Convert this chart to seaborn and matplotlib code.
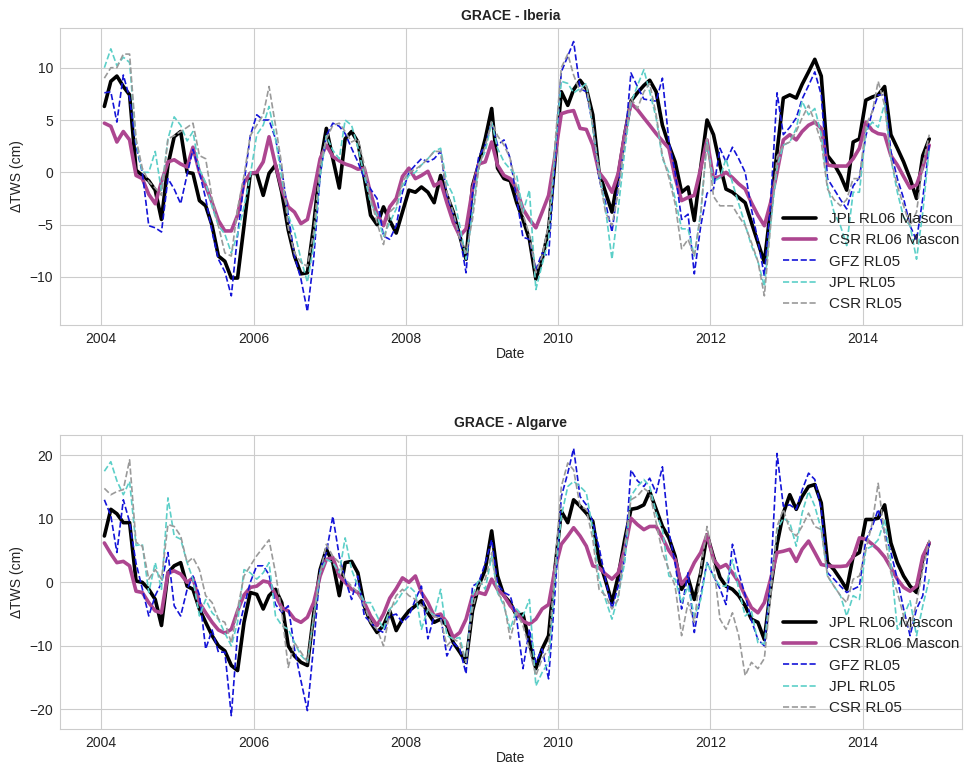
import numpy as np
import pandas as pd
import matplotlib
matplotlib.use("Agg")
import matplotlib.pyplot as plt
import matplotlib.dates as mdates
import seaborn as sns

# Monthly GRACE solutions, Jan 2004 - Nov 2014 (mid-month dates)
months = pd.date_range("2004-01-01", periods=131, freq="MS") + pd.Timedelta(days=15)

# ---- Iberia (cm of terrestrial water storage anomaly) ----
iberia_jpl_rl06_mascon = [
    6.3, 8.7, 9.2, 8.2, 7.4, 0.2, -0.3, -0.8, -1.7, -4.5,
    0.7, 3.4, 3.9, 0.0, -0.1, -2.7, -3.2, -5.1, -8.0, -8.5,
    -10.1, -10.1, -5.1, -0.1, -0.1, -2.2, -0.1, 0.7, -1.9, -5.5,
    -8.0, -9.7, -9.6, -5.1, 0.7, 4.2, 1.3, -1.5, 3.2, 3.9,
    2.9, -0.5, -4.1, -5.0, -3.3, -4.6, -5.8, -3.8, -1.7, -1.9,
    -1.4, -1.9, -2.9, -0.3, -2.2, -3.8, -6.1, -8.3, -1.3, 0.8,
    3.2, 6.1, 0.4, -0.6, -0.8, -2.9, -4.5, -6.4, -10.2, -8.3,
    -5.5, 1.0, 7.7, 6.4, 7.9, 8.8, 8.0, 5.5, 0.0, -1.9,
    -3.8, -0.3, 3.6, 6.8, 7.6, 8.3, 8.8, 7.7, 4.5, 2.6,
    1.0, -1.9, -1.4, -4.6, 0.5, 5.0, 3.6, 0.7, -1.6, -1.9,
    -2.4, -2.9, -4.8, -6.7, -8.6, -3.5, 2.0, 7.1, 7.4, 7.1,
    8.4, 9.6, 10.8, 9.2, 1.6, 0.8, -0.3, -1.7, 2.9, 3.2,
    6.9, 7.2, 7.4, 8.2, 3.6, 2.3, 1.0, -0.6, -2.5, 1.6, 3.2,
]
iberia_csr_rl06_mascon = [
    4.7, 4.4, 2.9, 3.9, 3.1, -0.3, -0.6, -2.1, -3.0, -0.9,
    1.0, 1.2, 0.8, 0.5, 2.4, 0.0, -1.3, -2.9, -4.6, -5.6,
    -5.6, -4.1, -1.0, -0.1, 0.0, 1.0, 3.4, 0.7, -1.6, -3.3,
    -3.8, -4.9, -4.5, -1.9, 1.3, 2.6, 1.5, 1.1, 0.8, 0.6,
    0.3, 0.4, -2.0, -4.0, -5.1, -3.3, -2.5, -0.4, 0.4, -0.6,
    -0.3, 0.1, -1.3, -0.9, -2.9, -4.8, -6.1, -5.4, -1.6, 0.8,
    1.0, 2.9, 0.7, -0.3, -0.6, -1.6, -3.5, -4.5, -5.3, -3.8,
    -2.2, 1.5, 5.6, 5.8, 5.9, 4.2, 4.1, 2.6, 0.0, -0.8,
    -1.9, -0.1, 3.6, 6.6, 6.0, 5.2, 4.5, 3.7, 3.0, 2.3,
    -0.5, -2.7, -2.4, -2.2, 0.4, 3.1, -0.6, -0.4, 0.0, -0.5,
    -1.1, -1.6, -2.9, -4.1, -5.1, -2.9, 0.0, 3.1, 3.6, 3.1,
    3.9, 4.5, 4.8, 4.2, 0.7, 0.6, 0.6, 0.6, 1.3, 2.3,
    4.8, 4.0, 3.7, 3.6, 1.6, 0.7, -0.4, -1.5, -1.2, 0.5, 2.6,
]
iberia_gfz_rl05 = [
    7.6, 7.7, 4.8, 9.3, 7.1, 2.5, 0.0, -5.1, -5.3, -5.7,
    -0.6, -1.6, -3.0, -0.2, 2.2, 0.0, -2.5, -5.7, -8.3, -9.5,
    -11.8, -6.0, -1.0, 3.5, 5.5, 5.0, 5.0, 3.2, 0.3, -4.0,
    -8.0, -10.2, -13.3, -8.3, -0.3, 3.5, 4.7, 4.4, 3.7, 2.3,
    1.0, -0.6, -1.6, -2.5, -6.1, -6.4, -5.1, -1.9, 0.0, 0.7,
    1.3, 1.0, 1.3, 2.0, -2.2, -4.0, -6.1, -9.6, -2.0, 1.5,
    2.6, 4.8, 2.6, 3.1, 1.3, -2.5, -6.2, -6.4, -9.3, -7.7,
    -8.0, 1.0, 9.6, 11.1, 12.5, 8.0, 7.7, 4.5, -0.6, -2.9,
    -5.7, -1.3, 2.6, 9.5, 8.2, 7.0, 6.9, 6.8, 9.0, 3.0,
    0.0, -4.5, -4.0, -9.7, -5.1, -2.0, -1.6, 2.3, 1.0, 2.4,
    1.3, 0.0, -3.5, -6.5, -9.9, -3.0, 7.6, 3.6, 4.3, 5.2,
    7.0, 8.3, 9.6, 7.4, -0.6, -1.6, -2.6, -3.5, -1.3, -0.5,
    3.5, 5.8, 7.4, 7.4, 2.0, -0.6, -2.5, -5.1, -6.5, -2.5, 2.6,
]
iberia_jpl_rl05 = [
    10.0, 11.8, 10.2, 11.0, 10.5, 2.9, 0.0, 0.0, 2.0, -1.8,
    3.2, 5.3, 4.5, 3.0, 3.9, 0.3, -1.0, -3.3, -5.1, -5.9,
    -7.7, -5.9, -3.3, -0.3, 3.6, 4.5, 6.3, 3.2, -0.6, -4.1,
    -5.7, -8.3, -10.5, -7.0, -0.3, 3.5, 2.1, 1.3, 5.0, 4.5,
    2.4, -0.3, -2.9, -4.1, -6.1, -4.8, -3.5, -1.3, -0.3, 0.0,
    0.7, 1.3, 2.0, 2.3, -1.0, -2.2, -5.1, -8.3, -3.8, 0.7,
    2.0, 4.8, 2.3, 1.0, 0.3, -0.3, -3.8, -1.7, -11.2, -8.8,
    -6.4, 2.0, 8.7, 8.5, 7.6, 8.0, 8.5, 4.2, 0.3, -3.5,
    -8.3, -3.5, 2.0, 6.6, 8.3, 9.8, 7.7, 5.2, 1.3, 0.0,
    -2.5, -5.4, -5.4, -8.0, -3.8, 2.9, -0.9, -0.5, 1.3, -1.0,
    -3.0, -5.0, -7.0, -8.5, -10.9, -5.0, 0.5, 2.6, 2.9, 4.2,
    6.8, 5.5, 6.1, 3.6, -1.3, -3.8, -5.1, -7.0, -1.9, -1.9,
    4.0, 4.8, 4.3, 6.6, 1.3, -1.9, -4.3, -5.1, -8.3, -3.8, 2.3,
]
iberia_csr_rl05 = [
    9.0, 10.0, 10.0, 11.3, 11.3, 3.2, 0.4, -0.9, -1.5, -2.2,
    3.2, 3.5, 3.9, 4.3, 4.7, 1.6, 1.3, -2.5, -5.1, -7.7,
    -8.0, -3.5, -0.3, 3.5, 4.5, 5.5, 8.2, 4.5, 0.7, -5.3,
    -7.7, -8.6, -9.0, -5.7, 0.7, 3.2, 4.5, 4.7, 3.9, 2.9,
    3.2, 0.7, -2.5, -4.8, -6.9, -3.8, -3.2, -0.9, 0.0, 0.3,
    0.7, 1.3, 2.0, 2.0, -1.9, -3.8, -6.4, -7.7, -4.5, 0.4,
    2.5, 4.8, 3.5, 2.6, 1.3, -1.5, -4.0, -6.0, -9.6, -8.0,
    -5.0, 2.5, 10.0, 11.3, 9.3, 7.7, 8.3, 4.5, -0.3, -3.8,
    -5.1, -1.9, 2.9, 7.1, 6.1, 7.7, 8.5, 5.5, 1.6, -0.5,
    -3.0, -7.3, -6.4, -8.0, -4.0, 3.2, -2.3, -3.2, -3.2, -3.2,
    -4.2, -5.1, -6.7, -8.5, -11.8, -5.1, 1.5, 2.6, 2.9, 3.9,
    5.2, 6.4, 4.8, 2.9, -1.6, -2.6, -3.2, -2.6, -0.6, -0.6,
    4.5, 5.8, 8.7, 6.4, 1.3, -1.3, -3.2, -5.1, -3.8, 0.7, 3.6,
]

# ---- Algarve ----
algarve_jpl_rl06_mascon = [
    7.3, 11.5, 10.8, 9.4, 9.4, 0.2, 0.0, -1.1, -2.7, -6.8,
    1.5, 2.6, 3.1, -0.6, -1.1, -4.2, -6.3, -8.4, -10.0, -10.8,
    -13.1, -13.9, -6.3, -1.6, -1.9, -4.2, -2.1, -1.1, -3.2, -10.0,
    -11.6, -12.6, -13.1, -5.0, 2.0, 5.2, 3.1, -2.1, 3.1, 3.3,
    1.5, -3.7, -6.3, -7.9, -6.8, -4.5, -7.6, -5.8, -4.5, -3.7,
    -2.9, -4.8, -6.3, -5.8, -6.8, -9.5, -11.0, -12.6, -4.5, -0.5,
    2.0, 8.1, 1.0, -2.1, -3.2, -5.3, -5.0, -9.5, -13.6, -10.5,
    -8.4, 2.0, 11.2, 9.4, 13.0, 12.0, 10.9, 9.6, 3.5, 0.3,
    -3.2, 1.0, 6.7, 11.5, 11.7, 12.2, 14.3, 11.5, 8.8, 7.0,
    4.1, -1.1, 0.7, -2.7, 1.5, 7.5, 4.0, 0.8, -0.6, -1.1,
    -2.1, -3.7, -5.8, -6.3, -9.0, -1.0, 6.0, 10.9, 13.8, 11.5,
    13.5, 15.1, 15.4, 12.5, 3.1, 2.0, 0.5, -1.1, 4.1, 4.7,
    9.9, 9.9, 10.1, 12.2, 6.2, 3.1, 1.0, -0.6, -1.6, 3.6, 6.2,
]
algarve_csr_rl06_mascon = [
    6.2, 4.5, 3.1, 3.3, 2.6, -1.4, -1.6, -3.2, -4.5, -4.8,
    1.5, 1.8, 1.3, 0.0, 0.7, -3.2, -4.8, -6.3, -7.5, -8.0,
    -7.4, -4.5, -2.0, -0.8, -0.6, 0.2, 0.0, -2.0, -4.0, -4.5,
    -5.8, -6.3, -5.5, -3.2, 1.0, 3.6, 3.9, 1.0, 0.0, -1.1,
    -1.6, -3.2, -5.3, -6.8, -5.0, -2.5, -1.0, 0.7, 0.0, 1.0,
    -1.6, -3.2, -5.3, -5.0, -6.3, -8.7, -7.9, -5.8, -2.1, -1.6,
    -1.9, 0.5, -1.1, -2.1, -3.7, -4.8, -6.1, -6.6, -5.8, -4.2,
    -3.5, 2.0, 6.0, 7.3, 8.6, 7.3, 5.7, 2.6, 2.3, 1.3,
    0.5, 1.5, 5.2, 10.1, 9.1, 8.3, 8.8, 8.8, 7.0, 5.0,
    3.6, -0.3, 1.0, 3.1, 4.7, 7.5, 3.6, 2.3, 2.8, 1.5,
    0.0, -2.1, -4.0, -4.8, -3.2, 0.5, 4.7, 4.9, 5.2, 3.3,
    5.2, 6.5, 4.7, 2.8, 2.6, 2.5, 2.5, 2.6, 4.0, 7.0,
    6.8, 6.0, 5.2, 4.0, 2.3, 0.5, -0.8, -1.4, -0.6, 4.1, 6.2,
]
algarve_gfz_rl05 = [
    13.0, 10.5, 4.7, 13.0, 9.5, 3.0, -1.0, -5.3, -2.1, -0.1,
    4.7, -3.7, -5.3, -1.1, 1.0, -2.0, -10.5, -7.5, -11.0, -11.0,
    -21.0, -8.0, -3.8, 0.0, 2.6, 2.6, 1.2, -3.5, -4.7, -3.7,
    -10.5, -15.5, -20.2, -10.0, 2.0, 4.7, 10.4, 4.1, 0.5, -2.7,
    1.0, -5.3, -6.3, -7.4, -7.9, -5.3, -5.0, -6.3, -5.3, -2.7,
    -0.6, -8.9, -5.3, -5.3, -11.6, -9.5, -10.5, -14.4, -0.6, 0.0,
    3.0, 6.7, -0.3, -1.6, -2.1, -5.8, -13.6, -7.4, -12.6, -10.5,
    -15.2, -2.0, 13.5, 17.2, 21.1, 13.5, 12.2, 9.5, 5.5, 0.5,
    -4.2, -0.6, 3.6, 17.7, 16.0, 15.1, 16.4, 14.1, 18.2, 8.0,
    3.0, -4.2, 1.5, -7.9, -2.0, 3.1, 1.0, -1.0, -3.5, 6.0,
    1.5, -2.0, -6.0, -9.0, -10.0, 0.5, 20.3, 12.0, 12.2, 11.5,
    14.5, 17.2, 16.2, 11.5, 1.5, 0.5, -0.6, -1.6, -1.1, -0.6,
    6.7, 8.8, 11.5, 7.8, 4.7, 0.5, -4.2, -8.4, -4.2, -2.1, 6.2,
]
algarve_jpl_rl05 = [
    17.5, 19.0, 16.0, 13.8, 15.9, 5.8, 6.0, -1.6, 3.1, -1.1,
    13.3, 7.3, 6.8, 3.1, 0.5, -5.3, -2.7, -4.8, -5.8, -8.0,
    -10.0, -6.3, 2.0, 1.5, 0.5, 1.5, 3.1, -5.3, -6.8, -7.4,
    -9.5, -11.5, -12.6, -5.5, 1.5, 3.6, 3.1, 1.5, 7.0, 2.0,
    -0.6, -3.2, -3.2, -5.3, -7.4, -4.2, -3.2, -1.6, -0.6, -1.6,
    -7.4, -4.2, -5.3, -1.1, -8.4, -8.9, -8.7, -12.6, -2.1, 0.5,
    -1.1, 4.1, -1.6, -3.7, -7.4, -4.2, -5.3, -2.7, -16.3, -14.2,
    -12.6, 0.5, 10.4, 15.1, 15.9, 15.1, 14.1, 8.3, 0.5, -2.7,
    -5.8, -2.1, 3.1, 13.6, 15.1, 16.2, 15.1, 10.9, 8.3, 1.0,
    0.5, -3.2, -0.6, -5.3, -2.7, 3.1, 1.0, -0.6, -0.6, 3.6,
    -1.1, -5.3, -4.5, -9.5, -9.7, -1.1, 8.3, 10.1, 9.4, 5.7,
    10.9, 14.3, 12.0, 8.3, 1.0, -0.6, -2.1, -5.3, -2.1, -2.7,
    5.2, 5.7, 6.7, 9.9, 3.1, -7.4, -5.3, -2.9, -8.4, -3.7, 0.5,
]
algarve_csr_rl05 = [
    14.8, 13.8, 14.3, 14.6, 19.3, 6.3, 5.7, 0.5, 2.0, 0.5,
    9.1, 8.8, 7.3, 3.1, 3.9, 2.0, -2.1, -3.2, -5.8, -6.3,
    -9.5, -4.2, 1.0, 2.6, 4.2, 5.5, 6.7, 1.5, -4.7, -13.4,
    -9.5, -11.0, -12.6, -5.3, 1.5, 6.0, 4.1, 3.1, 0.5, -0.6,
    -1.6, -3.7, -6.3, -7.4, -10.0, -4.8, -2.1, -1.1, -2.1, -2.7,
    -3.7, -4.2, -5.3, -5.8, -10.0, -8.9, -9.5, -12.6, -4.2, -0.6,
    0.5, 4.7, -1.6, -3.2, -8.9, -4.8, -6.8, -10.5, -14.7, -12.0,
    -10.5, 2.0, 15.1, 18.8, 17.7, 12.0, 11.5, 6.8, -1.1, -2.1,
    -4.2, -2.7, 5.7, 13.0, 13.6, 14.8, 14.1, 9.4, 4.7, 2.0,
    -0.6, -8.4, -3.2, -6.3, 2.0, 8.8, 3.0, -5.8, -7.4, -4.8,
    -8.4, -14.7, -12.6, -13.6, -12.0, -2.1, 8.8, 11.5, 8.3, 7.3,
    8.8, 10.9, 8.8, 8.3, 1.0, -0.6, -2.1, -3.2, 0.5, 1.0,
    5.2, 9.4, 15.6, 7.3, 1.5, -1.6, -5.3, -7.4, -3.2, 2.0, 6.7,
]

series_labels = ["JPL RL06 Mascon", "CSR RL06 Mascon", "GFZ RL05", "JPL RL05", "CSR RL05"]
series_colors = ["black", "#ad4690", "#1414d8", "#5ccfc8", "#9a9a9a"]
series_widths = [2.6, 2.6, 1.2, 1.2, 1.2]
series_styles = ["-", "-", "--", "--", "--"]

panels = [
    ("GRACE - Iberia", [iberia_jpl_rl06_mascon, iberia_csr_rl06_mascon,
                        iberia_gfz_rl05, iberia_jpl_rl05, iberia_csr_rl05]),
    ("GRACE - Algarve", [algarve_jpl_rl06_mascon, algarve_csr_rl06_mascon,
                         algarve_gfz_rl05, algarve_jpl_rl05, algarve_csr_rl05]),
]

sns.set_style("whitegrid")
plt.rcParams["font.family"] = ["Liberation Sans", "DejaVu Sans"]
plt.rcParams["text.color"] = "#222222"
plt.rcParams["axes.labelcolor"] = "#222222"
plt.rcParams["xtick.color"] = "#222222"
plt.rcParams["ytick.color"] = "#222222"

fig = plt.figure(figsize=(9.64, 7.66), dpi=100)
axes = [
    fig.add_axes([0.0622, 0.5757, 0.9357, 0.3877]),
    fig.add_axes([0.0622, 0.0483, 0.9357, 0.3838]),
]

for ax, (title, values) in zip(axes, panels):
    for lab, vals, col, lw, ls in zip(series_labels, values, series_colors,
                                      series_widths, series_styles):
        frame = pd.DataFrame({"Date": months, "TWS": vals})
        sns.lineplot(data=frame, x="Date", y="TWS", ax=ax, color=col,
                     linewidth=lw, linestyle=ls, label=lab, estimator=None)
    ax.set_title(title, fontweight="bold", fontsize=10, pad=6)
    ax.set_xlabel("Date", fontsize=10, labelpad=1)
    ax.set_ylabel("ΔTWS (cm)", fontsize=10)
    ax.xaxis.set_major_locator(mdates.YearLocator(2))
    ax.xaxis.set_major_formatter(mdates.DateFormatter("%Y"))
    ax.set_xlim(pd.Timestamp("2003-06-17"), pd.Timestamp("2015-04-22"))
    ax.tick_params(labelsize=10, pad=1.5)
    ax.legend(loc="lower right", frameon=False, fontsize=11, handlelength=2.2,
              labelspacing=0.48, bbox_to_anchor=(1.012, 0.0))

fig.savefig("out.png", dpi=100)
